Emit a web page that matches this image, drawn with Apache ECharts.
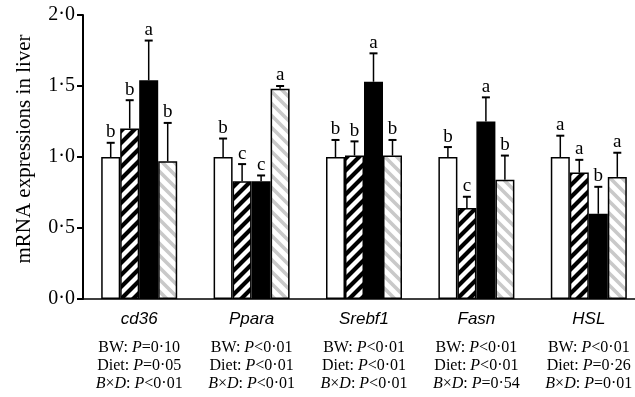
<!DOCTYPE html>
<html>
<head>
<meta charset="utf-8">
<script src="https://cdn.jsdelivr.net/npm/echarts@6/dist/echarts.min.js"></script>
<style>html,body{margin:0;padding:0;background:#fff;}#c{width:635px;height:397px;}</style>
</head>
<body>
<div id="c"></div>
<script>
const categories = ['cd36', 'Ppara', 'Srebf1', 'Fasn', 'HSL'];
const yTicks = [0, 0.5, 1.0, 1.5, 2.0];
// means
const whiteVals = [1.00, 1.00, 1.00, 1.00, 1.00];
const hatchVals = [1.20, 0.83, 1.01, 0.64, 0.89];
const blackVals = [1.54, 0.83, 1.53, 1.25, 0.60];
const greyVals  = [0.97, 1.48, 1.01, 0.84, 0.86];
// upper error (SE)
const whiteErr = [0.10, 0.13, 0.12, 0.07, 0.15];
const hatchErr = [0.20, 0.12, 0.10, 0.08, 0.09];
const blackErr = [0.28, 0.04, 0.20, 0.17, 0.19];
const greyErr  = [0.27, 0.02, 0.11, 0.17, 0.17];
// significance letters
const whiteLet = ['b', 'b', 'b', 'b', 'a'];
const hatchLet = ['b', 'c', 'b', 'c', 'a'];
const blackLet = ['a', 'c', 'a', 'a', 'b'];
const greyLet  = ['b', 'a', 'b', 'b', 'a'];
// statistics under each gene
const bwP   = ['P=0·10', 'P<0·01', 'P<0·01', 'P<0·01', 'P<0·01'];
const dietP = ['P=0·05', 'P<0·01', 'P<0·01', 'P<0·01', 'P=0·26'];
const bxdP  = ['P<0·01', 'P<0·01', 'P<0·01', 'P=0·54', 'P=0·01'];

const SERIF = '"Liberation Serif", "Times New Roman", serif';
const SANS = '"Liberation Sans", Arial, sans-serif';
const BAR_W = 19;

function makeHatch(color, dir, period, lw) {
  const c = document.createElement('canvas');
  c.width = period; c.height = period;
  const g = c.getContext('2d');
  g.fillStyle = '#fff'; g.fillRect(0, 0, period, period);
  g.strokeStyle = color; g.lineWidth = lw; g.lineCap = 'square';
  g.beginPath();
  for (let k = -1; k <= 1; k++) {
    if (dir === '/') { g.moveTo(k * period, period); g.lineTo(k * period + period, 0); }
    else { g.moveTo(k * period, 0); g.lineTo(k * period + period, period); }
  }
  g.stroke();
  return c;
}
const blackHatch = { image: makeHatch('#000', '/', 12, 4.2), repeat: 'repeat' };
const greyHatch = { image: makeHatch('#c9c9c9', '\\', 12, 3.6), repeat: 'repeat' };

function barSeries(name, vals, color) {
  return {
    name: name, type: 'bar', data: vals, barWidth: BAR_W, barGap: '0%',
    itemStyle: { color: color, borderColor: '#000', borderWidth: 1.5 },
    z: 2
  };
}
function errSeries(idx, vals, errs, lets) {
  return {
    type: 'custom', z: 3, silent: true,
    data: vals.map((v, i) => [i, v, errs[i]]),
    renderItem: function (params, api) {
      const ci = api.value(0), m = api.value(1), e = api.value(2);
      const base = api.coord([ci, m]);
      const top = api.coord([ci, m + e]);
      const x = base[0] + (idx - 1.5) * BAR_W;
      return {
        type: 'group', children: [
          { type: 'line', shape: { x1: x, y1: base[1], x2: x, y2: top[1] }, style: { stroke: '#000', lineWidth: 1.5 } },
          { type: 'line', shape: { x1: x - 4, y1: top[1], x2: x + 4, y2: top[1] }, style: { stroke: '#000', lineWidth: 2 } },
          { type: 'text', x: x, y: top[1] - 1, style: { text: lets[params.dataIndex], fill: '#000', font: '19px ' + SERIF, textAlign: 'center', textVerticalAlign: 'bottom' } }
        ]
      };
    }
  };
}

const chart = echarts.init(document.getElementById('c'), null, { renderer: 'canvas' });
chart.setOption({
  animation: false,
  backgroundColor: '#fff',
  grid: { left: 83, top: 15, bottom: 98, width: 562, containLabel: false, outerBoundsMode: 'none' },
  xAxis: {
    type: 'category', data: categories,
    axisLine: { lineStyle: { color: '#000', width: 1.5 } },
    axisTick: { show: false },
    axisLabel: {
      interval: 0, margin: 0, color: '#000', hideOverlap: false,
      formatter: function (v, i) {
        return '{cat|' + v + '}\n' +
          '{s|BW: }{si|P}{s|' + bwP[i].slice(1) + '}\n' +
          '{s|Diet: }{si|P}{s|' + dietP[i].slice(1) + '}\n' +
          '{si|B}{s|×}{si|D}{s|: }{si|P}{s|' + bxdP[i].slice(1) + '}';
      },
      rich: {
        cat: { fontFamily: SANS, fontStyle: 'italic', fontSize: 17, lineHeight: 40, color: '#000' },
        s: { fontFamily: SERIF, fontSize: 16, lineHeight: 18, color: '#000' },
        si: { fontFamily: SERIF, fontStyle: 'italic', fontSize: 16, lineHeight: 18, color: '#000' }
      }
    }
  },
  yAxis: {
    type: 'value', min: 0, max: 2, interval: 0.5,
    name: 'mRNA expressions in liver', nameLocation: 'middle', nameGap: 48,
    nameTextStyle: { fontFamily: SERIF, fontSize: 21, color: '#000', padding: [0, 0, 0, 16] },
    axisLine: { show: true, lineStyle: { color: '#000', width: 2 } },
    axisTick: { show: true, inside: false, length: 6, lineStyle: { color: '#000', width: 2 } },
    splitLine: { show: false },
    axisLabel: {
      margin: 8, color: '#000', fontFamily: SERIF, fontSize: 20,
      formatter: function (v) { return v.toFixed(1).replace('.', '·'); }
    }
  },
  series: [
    barSeries('Group 1', whiteVals, '#fff'),
    barSeries('Group 2', hatchVals, blackHatch),
    barSeries('Group 3', blackVals, '#000'),
    barSeries('Group 4', greyVals, greyHatch),
    errSeries(0, whiteVals, whiteErr, whiteLet),
    errSeries(1, hatchVals, hatchErr, hatchLet),
    errSeries(2, blackVals, blackErr, blackLet),
    errSeries(3, greyVals, greyErr, greyLet)
  ]
});
</script>
</body>
</html>
